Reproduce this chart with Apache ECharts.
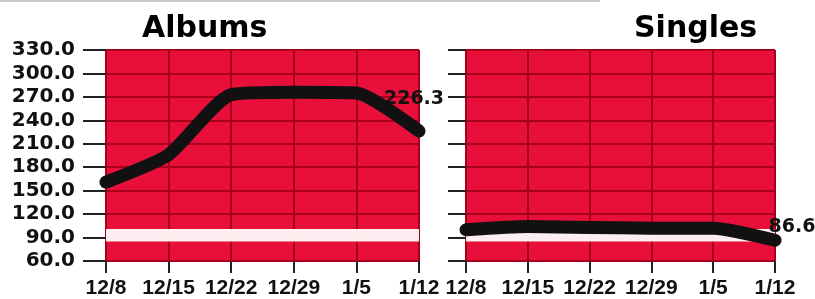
<!DOCTYPE html>
<html>
<head>
<meta charset="utf-8">
<script src="https://cdn.jsdelivr.net/npm/echarts@6/dist/echarts.min.js"></script>
<style>
html,body{margin:0;padding:0;background:#fff;}
#chart{width:815px;height:299px;}
</style>
</head>
<body>
<div id="chart"></div>
<script>
// ---- data ----
const categories = ['12/8', '12/15', '12/22', '12/29', '1/5', '1/12'];
const albumsValues = [161, 196, 273, 276, 275, 226.3];
const singlesValues = [100, 104, 103, 102, 102, 86.6];
const yMin = 60;
const yMax = 330;
const yStep = 30;
const bandRange = [85, 101];
const titles = ['Albums', 'Singles'];

// ---- styles ----
const RED = '#e8103a';
const GRID_RED = '#a8001a';
const INK = '#111';
const numFont = 'DejaVu Sans';
const xFont = '"Liberation Sans", Arial, sans-serif';

function buildData(values, labelOffset) {
  return values.map(function (v, i) {
    if (i === values.length - 1) {
      return {
        value: v,
        label: {
          show: true,
          position: 'top',
          offset: labelOffset,
          formatter: function (p) { return p.value.toFixed(1); },
          color: INK,
          fontFamily: numFont,
          fontWeight: 'bold',
          fontSize: 19
        }
      };
    }
    return v;
  });
}

function xAxisFor(gridIndex) {
  return {
    type: 'category',
    gridIndex: gridIndex,
    data: categories,
    boundaryGap: false,
    axisLine: { show: false },
    axisTick: { show: true, interval: 0, length: 12, lineStyle: { color: '#222', width: 2 } },
    axisLabel: { interval: 0, margin: 17, color: INK, fontFamily: xFont, fontWeight: 'bold', fontSize: 21 },
    splitLine: { show: true, interval: 0, lineStyle: { color: GRID_RED, width: 2 } }
  };
}

function yAxisFor(gridIndex, showLabels, tickLen) {
  return {
    type: 'value',
    gridIndex: gridIndex,
    min: yMin,
    max: yMax,
    interval: yStep,
    axisLine: { show: false },
    axisTick: { show: true, length: tickLen, lineStyle: { color: '#222', width: 2 } },
    axisLabel: {
      show: showLabels,
      margin: 31,
      color: INK,
      fontFamily: numFont,
      fontWeight: 'bold',
      fontSize: 20,
      formatter: function (v) { return v.toFixed(1); }
    },
    splitLine: { show: true, lineStyle: { color: GRID_RED, width: 2 } }
  };
}

function seriesFor(idx, values, labelOffset) {
  return {
    type: 'line',
    xAxisIndex: idx,
    yAxisIndex: idx,
    data: buildData(values, labelOffset),
    smooth: 0.2,
    showSymbol: true,
    symbol: 'circle',
    symbolSize: 0,
    lineStyle: { color: INK, width: 13, cap: 'round', join: 'round' },
    itemStyle: { color: INK },
    silent: true,
    animation: false,
    markArea: {
      silent: true,
      itemStyle: { color: 'rgba(255,255,255,0.93)' },
      data: [[{ yAxis: bandRange[0] }, { yAxis: bandRange[1] }]]
    },
    z: 3
  };
}

const chart = echarts.init(document.getElementById('chart'), null, { renderer: 'canvas' });
chart.setOption({
  animation: false,
  backgroundColor: '#fff',
  title: [
    { text: titles[0], left: 137, top: 9, textStyle: { fontFamily: numFont, fontWeight: 'bold', fontSize: 30, color: '#000' } },
    { text: titles[1], left: 629, top: 9, textStyle: { fontFamily: numFont, fontWeight: 'bold', fontSize: 30, color: '#000' } }
  ],
  grid: [
    { left: 106, top: 50, width: 313, height: 218, show: true, backgroundColor: RED, borderWidth: 0 },
    { left: 466, top: 50, width: 309, height: 218, show: true, backgroundColor: RED, borderWidth: 0 }
  ],
  xAxis: [xAxisFor(0), xAxisFor(1)],
  yAxis: [yAxisFor(0, true, 23), yAxisFor(1, false, 18)],
  series: [
    seriesFor(0, albumsValues, [-5, -17]),
    seriesFor(1, singlesValues, [17, 1])
  ],
  graphic: [
    { type: 'rect', shape: { x: 0, y: 0, width: 600, height: 2 }, style: { fill: '#c8c8c8' }, silent: true }
  ]
});
</script>
</body>
</html>
